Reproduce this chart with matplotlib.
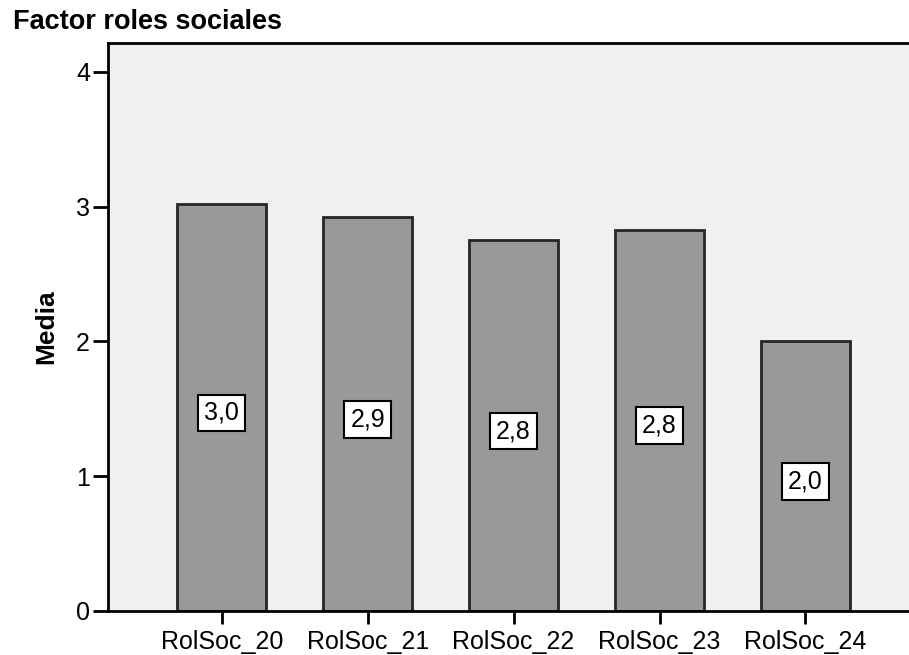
import numpy as np
import matplotlib.pyplot as plt

plt.rcParams['font.family'] = ['Liberation Sans', 'DejaVu Sans']

categories = ['RolSoc_20', 'RolSoc_21', 'RolSoc_22', 'RolSoc_23', 'RolSoc_24']
means = [3.02, 2.92, 2.75, 2.83, 2.00]

fig = plt.figure(figsize=(9.09, 6.55), dpi=100)
ax = fig.add_axes([0.1188, 0.0672, 0.8812, 0.8672])
ax.set_facecolor('#f0f0f0')

x = np.arange(len(categories))
ax.bar(x, means, width=0.61, color='#999999', edgecolor='#262626', linewidth=2, zorder=2)

# value labels in white boxes, half way up each bar
for xi, m in zip(x, means):
    ax.text(xi, m / 2 - 0.04, f'{m:.1f}'.replace('.', ','), ha='center', va='center',
            fontsize=18, zorder=3,
            bbox=dict(boxstyle='square,pad=0.25', facecolor='white', edgecolor='black', linewidth=1.5))

ax.set_xlim(-0.78, 4.71)
ax.set_ylim(0, 4.215)
ax.set_yticks([0, 1, 2, 3, 4])
ax.set_xticks(x)
ax.set_xticklabels(categories)
ax.tick_params(axis='y', length=11, width=2, pad=2, labelsize=18)
ax.tick_params(axis='x', length=9.5, width=2, pad=4, labelsize=18)

for side in ['left', 'top', 'bottom']:
    ax.spines[side].set_linewidth(2)
ax.spines['right'].set_visible(False)

ax.set_ylabel('Media', fontsize=19, fontweight='bold', labelpad=13)
fig.text(0.014, 0.966, 'Factor roles sociales', fontsize=19.5, fontweight='bold',
         ha='left', va='center')

fig.savefig('out.png', dpi=100)
